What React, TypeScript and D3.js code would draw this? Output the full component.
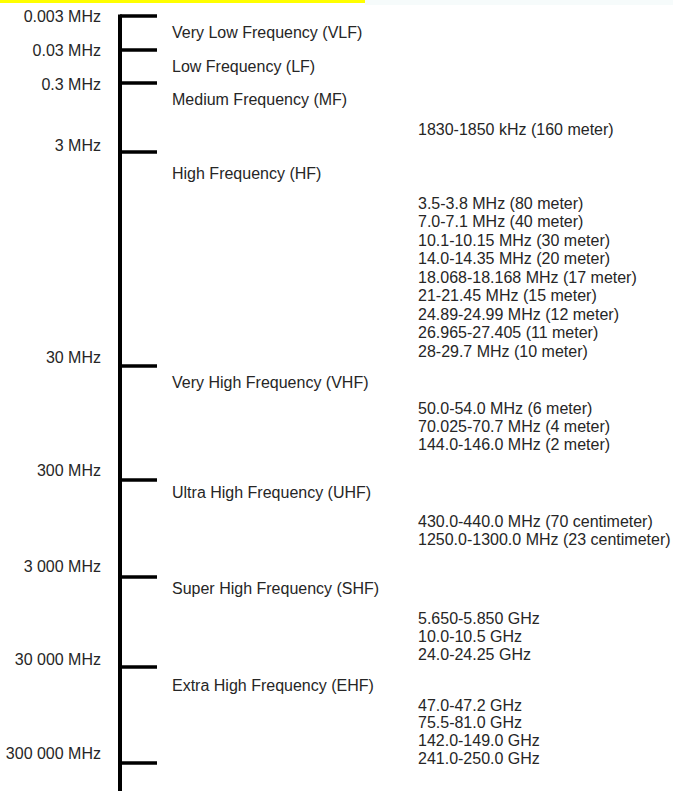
import React from "react";
import * as d3 from "d3";

// Axis tick values (MHz) and their labels
const tickValues = [0.003, 0.03, 0.3, 3, 30, 300, 3000, 30000, 300000];
const tickLabels = [
  "0.003 MHz",
  "0.03 MHz",
  "0.3 MHz",
  "3 MHz",
  "30 MHz",
  "300 MHz",
  "3 000 MHz",
  "30 000 MHz",
  "300 000 MHz",
];

// Frequency band names (each begins at the tick with the same index)
const bandNames = [
  "Very Low Frequency (VLF)",
  "Low Frequency (LF)",
  "Medium Frequency (MF)",
  "High Frequency (HF)",
  "Very High Frequency (VHF)",
  "Ultra High Frequency (UHF)",
  "Super High Frequency (SHF)",
  "Extra High Frequency (EHF)",
];

// Amateur allocations, grouped by band
const mfAllocations = ["1830-1850 kHz (160 meter)"];
const hfAllocations = [
  "3.5-3.8 MHz (80 meter)",
  "7.0-7.1 MHz (40 meter)",
  "10.1-10.15 MHz (30 meter)",
  "14.0-14.35 MHz (20 meter)",
  "18.068-18.168 MHz (17 meter)",
  "21-21.45 MHz (15 meter)",
  "24.89-24.99 MHz (12 meter)",
  "26.965-27.405 (11 meter)",
  "28-29.7 MHz (10 meter)",
];
const vhfAllocations = [
  "50.0-54.0 MHz (6 meter)",
  "70.025-70.7 MHz (4 meter)",
  "144.0-146.0 MHz (2 meter)",
];
const uhfAllocations = [
  "430.0-440.0 MHz (70 centimeter)",
  "1250.0-1300.0 MHz (23 centimeter)",
];
const shfAllocations = ["5.650-5.850 GHz", "10.0-10.5 GHz", "24.0-24.25 GHz"];
const ehfAllocations = [
  "47.0-47.2 GHz",
  "75.5-81.0 GHz",
  "142.0-149.0 GHz",
  "241.0-250.0 GHz",
];

// ---- layout (not data) ----
const W = 673;
const H = 791;
const axisX = 120;
const tickEnd = 157;
const labelRight = 101;
const bandX = 172;
const listX = 418;
const font = "'Liberation Sans', Arial, sans-serif";
const textColor = "#262626";

// piecewise log scale reproducing the uneven spacing of the original drawing
const y = d3
  .scaleLog()
  .domain(tickValues)
  .range([16, 50, 83, 152, 366, 480, 577, 667, 763]);

const tickLabelDy = [0, 0, 1, -7, -9, -10, -11, -8, -10];
const bandNameDy = [16, 16, 16, 21, 16, 12, 11, 18];

const groups = [
  { band: 2, items: mfAllocations, dy: 46, step: 18 },
  { band: 3, items: hfAllocations, dy: 51, step: 18.5 },
  { band: 4, items: vhfAllocations, dy: 42, step: 18 },
  { band: 5, items: uhfAllocations, dy: 41, step: 18 },
  { band: 6, items: shfAllocations, dy: 41, step: 18.3 },
  { band: 7, items: ehfAllocations, dy: 38, step: 17.8 },
];

export default function App() {
  return (
    <svg
      width={W}
      height={H}
      style={{ position: "absolute", left: 0, top: 0, background: "#fff" }}
      fontFamily={font}
      fontSize={16}
      fill={textColor}
    >
      <rect x={0} y={0} width={W} height={H} fill="#ffffff" />
      <rect x={0} y={0} width={365} height={3} fill="#ffff00" />
      <rect x={365} y={0} width={W - 365} height={5} fill="#f6fbfb" />

      {/* axis */}
      <line
        x1={axisX}
        x2={axisX}
        y1={y(tickValues[0]) - 1.5}
        y2={H}
        stroke="#000"
        strokeWidth={4}
      />
      {tickValues.map((v, i) => (
        <g key={"t" + i}>
          <line
            x1={axisX}
            x2={tickEnd}
            y1={y(v)}
            y2={y(v)}
            stroke="#000"
            strokeWidth={3.5}
          />
          <text
            x={labelRight}
            y={y(v) + tickLabelDy[i]}
            textAnchor="end"
            dominantBaseline="central"
          >
            {tickLabels[i]}
          </text>
        </g>
      ))}

      {bandNames.map((name, i) => (
        <text
          key={"b" + i}
          x={bandX}
          y={y(tickValues[i]) + bandNameDy[i]}
          dominantBaseline="central"
        >
          {name}
        </text>
      ))}

      {groups.map((g, gi) =>
        g.items.map((t, j) => (
          <text
            key={"a" + gi + "-" + j}
            x={listX}
            y={y(tickValues[g.band]) + g.dy + j * g.step}
            dominantBaseline="central"
          >
            {t}
          </text>
        ))
      )}
    </svg>
  );
}
